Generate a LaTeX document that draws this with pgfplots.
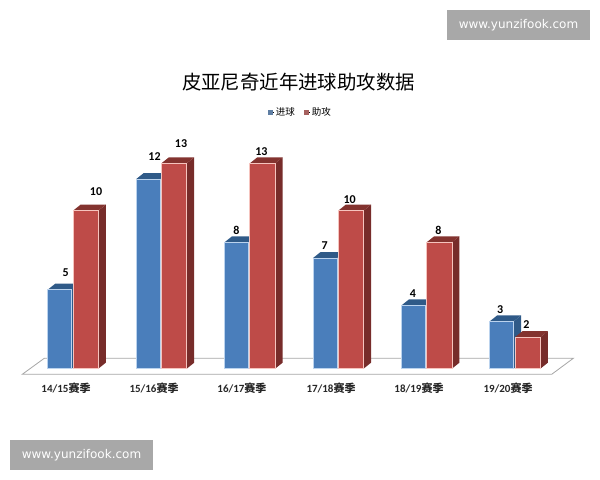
\documentclass[border=0pt]{standalone}
\usepackage{pgfplots}
\pgfplotsset{compat=1.18}
\usepackage{fontspec}
\setmainfont{Carlito}
\newfontfamily\cjk{Noto Sans CJK SC}
\newfontfamily\web{DejaVu Sans}
\definecolor{bluefront}{HTML}{4A7EBB}
\definecolor{blueedge}{HTML}{BBD3EE}
\definecolor{blueside}{HTML}{2F5A88}
\definecolor{redfront}{HTML}{BE4B48}
\definecolor{rededge}{HTML}{F6C4BE}
\definecolor{redside}{HTML}{772C2A}
\definecolor{redtop}{HTML}{83332F}
\definecolor{plane}{HTML}{A6A6A6}
\definecolor{mark}{HTML}{A8A8A8}
% one bar with depth: left, right, value, front, edge, side, top
\newcommand{\threedbar}[7]{%
  \pgfmathsetmacro\xr{#2+0.085}%
  \pgfmathsetmacro\xb{#1+0.085}%
  \pgfmathsetmacro\yt{#3+0.38}%
  \edef\tmp{\noexpand\addplot[forget plot,fill=#6,draw=none] coordinates {(#2,0) (\xr,0.38) (\xr,\yt) (#2,#3)} --cycle;
    \noexpand\addplot[forget plot,fill=#7,draw=none] coordinates {(#1,#3) (\xb,\yt) (\xr,\yt) (#2,#3)} --cycle;
    \noexpand\addplot[forget plot,fill=#4,draw=#5,line width=0.7pt] coordinates {(#1,0) (#1,#3) (#2,#3) (#2,0)} --cycle;}%
  \tmp}
\begin{document}
\begin{tikzpicture}
\begin{axis}[
  scale only axis,
  width=600pt, height=480pt,
  xmin=-0.818, xmax=5.969,
  ymin=-7.044, ymax=23.335,
  hide axis,
  clip=false,
  no markers,
  legend style={draw=none,fill=none,font=\cjk\fontsize{9.5}{9.5}\selectfont,
    at={(axis cs:2.58,16.25)},anchor=center,
    /tikz/every even column/.append style={column sep=7pt}},
  legend columns=2,
]
% keeps the page at the full 600x480
\path (rel axis cs:0,0) rectangle (rel axis cs:1,1);
% floor
\addplot[forget plot,fill=white,draw=plane,line width=0.8pt] coordinates {(-0.566,-0.354) (-0.317,0.658) (5.667,0.658) (5.423,-0.354)} --cycle;
% 14/15
\threedbar{-0.278}{-0.007}{5}{bluefront}{blueedge}{blueside}{blueside}
\threedbar{0.008}{0.294}{10}{redfront}{rededge}{redside}{redtop}
% 15/16
\threedbar{0.722}{0.993}{12}{bluefront}{blueedge}{blueside}{blueside}
\threedbar{1.008}{1.294}{13}{redfront}{rededge}{redside}{redtop}
% 16/17
\threedbar{1.722}{1.993}{8}{bluefront}{blueedge}{blueside}{blueside}
\threedbar{2.008}{2.294}{13}{redfront}{rededge}{redside}{redtop}
% 17/18
\threedbar{2.722}{2.993}{7}{bluefront}{blueedge}{blueside}{blueside}
\threedbar{3.008}{3.294}{10}{redfront}{rededge}{redside}{redtop}
% 18/19
\threedbar{3.722}{3.993}{4}{bluefront}{blueedge}{blueside}{blueside}
\threedbar{4.008}{4.294}{8}{redfront}{rededge}{redside}{redtop}
% 19/20
\threedbar{4.722}{4.993}{3}{bluefront}{blueedge}{blueside}{blueside}
\threedbar{5.008}{5.294}{2}{redfront}{rededge}{redside}{redtop}
\addlegendimage{legend image code/.code={\path (0pt,0pt) -- (5.5pt,0pt);\fill[bluefront!60!gray] (0pt,-2pt) rectangle (4pt,2pt);}}
\addlegendentry{进球}
\addlegendimage{legend image code/.code={\path (0pt,0pt) -- (5.5pt,0pt);\fill[redfront!60!gray] (0pt,-2pt) rectangle (4pt,2pt);}}
\addlegendentry{助攻}
% title
\node[font=\cjk\fontsize{19.4}{20}\selectfont,inner sep=0pt] at (rel axis cs:0.4975,0.829) {皮亚尼奇近年进球助攻数据};
% value labels
\tikzset{val/.style={font=\bfseries\fontsize{12}{12}\selectfont,inner sep=0pt,text=black}}
\node[val] at (rel axis cs:0.1095,0.431) {5};
\node[val] at (rel axis cs:0.160,0.600) {10};
\node[val] at (rel axis cs:0.2575,0.673) {12};
\node[val] at (rel axis cs:0.3017,0.700) {13};
\node[val] at (rel axis cs:0.3942,0.521) {8};
\node[val] at (rel axis cs:0.4358,0.684) {13};
\node[val] at (rel axis cs:0.5412,0.488) {7};
\node[val] at (rel axis cs:0.5828,0.585) {10};
\node[val] at (rel axis cs:0.6883,0.388) {4};
\node[val] at (rel axis cs:0.7305,0.521) {8};
\node[val] at (rel axis cs:0.8338,0.356) {3};
\node[val] at (rel axis cs:0.8772,0.323) {2};
% category labels
\tikzset{cat/.style={font=\bfseries\fontsize{11}{11}\selectfont,inner sep=0pt,text=black!85}}
\node[cat] at (rel axis cs:0.110,0.1917) {14/15{\cjk 赛季}};
\node[cat] at (rel axis cs:0.2567,0.1917) {15/16{\cjk 赛季}};
\node[cat] at (rel axis cs:0.4033,0.1917) {16/17{\cjk 赛季}};
\node[cat] at (rel axis cs:0.5517,0.1917) {17/18{\cjk 赛季}};
\node[cat] at (rel axis cs:0.6983,0.1917) {18/19{\cjk 赛季}};
\node[cat] at (rel axis cs:0.8467,0.1917) {19/20{\cjk 赛季}};
% watermarks
\node[fill=mark,minimum width=143pt,minimum height=30pt,inner sep=0pt,text=white,font=\web\fontsize{12}{12}\selectfont] at (rel axis cs:0.8642,0.9479) {www.yunzifook.com};
\node[fill=mark,minimum width=143pt,minimum height=30pt,inner sep=0pt,text=white,font=\web\fontsize{12}{12}\selectfont] at (rel axis cs:0.1358,0.0521) {www.yunzifook.com};
\end{axis}
\end{tikzpicture}
\end{document}
